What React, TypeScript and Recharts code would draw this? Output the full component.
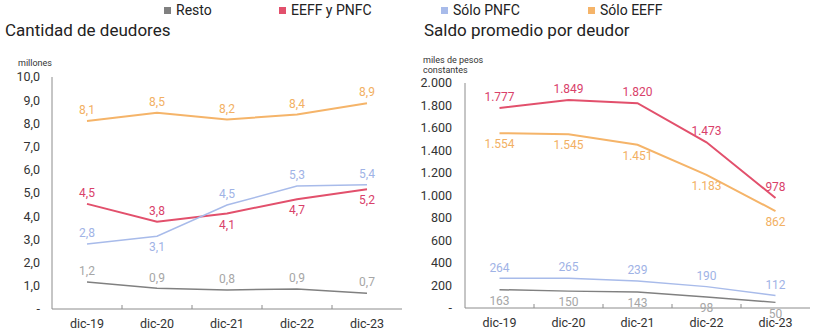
import { LineChart, Line, XAxis, YAxis, LabelList } from 'recharts';

const years = ['dic-19', 'dic-20', 'dic-21', 'dic-22', 'dic-23'];

// Cantidad de deudores (millones)
const restoCant = [1.16, 0.89, 0.82, 0.86, 0.68];
const ambosCant = [4.53, 3.76, 4.12, 4.73, 5.16];
const pnfcCant = [2.8, 3.14, 4.48, 5.3, 5.36];
const eeffCant = [8.1, 8.46, 8.17, 8.38, 8.87];

// Saldo promedio por deudor (miles de pesos constantes)
const restoSaldo = [163, 150, 143, 98, 50];
const ambosSaldo = [1777, 1849, 1820, 1473, 978];
const pnfcSaldo = [264, 265, 239, 190, 112];
const eeffSaldo = [1554, 1545, 1451, 1183, 862];

const leftTicks = [0, 1, 2, 3, 4, 5, 6, 7, 8, 9, 10];
const rightTicks = [0, 200, 400, 600, 800, 1000, 1200, 1400, 1600, 1800, 2000];

const font = 'Roboto, "Noto Sans", sans-serif';

const series = [
  { key: 'resto', name: 'Resto', stroke: '#808080', label: '#a6a6a6', width: 1.5 },
  { key: 'ambos', name: 'EEFF y PNFC', stroke: '#e2506c', label: '#d9416a', width: 2 },
  { key: 'pnfc', name: 'Sólo PNFC', stroke: '#a8bbea', label: '#9fb3e6', width: 1.5 },
  { key: 'eeff', name: 'Sólo EEFF', stroke: '#f5b469', label: '#f2b063', width: 2 },
];

// label placement per point: -1 above, 1 below
const leftPlace: Record<string, number[]> = {
  resto: [-1, -1, -1, -1, -1],
  ambos: [-1, -1, 1, 1, 1],
  pnfc: [-1, 1, -1, -1, -1],
  eeff: [-1, -1, -1, -1, -1],
};
const rightPlace: Record<string, number[]> = {
  resto: [1, 1, 1, 1, 1],
  ambos: [-1, -1, -1, -1, -1],
  pnfc: [-1, -1, -1, -1, -1],
  eeff: [1, 1, 1, 1, 1],
};

const leftData = years.map((y, i) => ({
  year: y,
  resto: restoCant[i],
  ambos: ambosCant[i],
  pnfc: pnfcCant[i],
  eeff: eeffCant[i],
}));

const rightData = years.map((y, i) => ({
  year: y,
  resto: restoSaldo[i],
  ambos: ambosSaldo[i],
  pnfc: pnfcSaldo[i],
  eeff: eeffSaldo[i],
}));

const fmtDec = (v: number) => (v === 0 ? '-' : v.toFixed(1).replace('.', ','));
const fmtMil = (v: number) =>
  v === 0 ? '-' : Math.round(v).toString().replace(/\B(?=(\d{3})+(?!\d))/g, '.');

const makeTick = (band: number) => (props: any) => {
  const { x, y, payload, index } = props;
  return (
    <g>
      <text x={x} y={y + 19} textAnchor="middle" fontSize={12.5} fill="#333" fontFamily={font}>
        {payload.value}
      </text>
      {index > 0 && (
        <line x1={x - band / 2} x2={x - band / 2} y1={y - 4} y2={y} stroke="#8c8c8c" />
      )}
    </g>
  );
};

const makeLabel = (place: number[], color: string, fmt: (v: number) => string) => (props: any) => {
  const { x, y, value, index } = props;
  const dir = place[index] ?? -1;
  return (
    <text
      x={x}
      y={y + dir * 11}
      dy="0.35em"
      textAnchor="middle"
      fontSize={12}
      fill={color}
      fontFamily={font}
    >
      {fmt(value)}
    </text>
  );
};

export default function App() {
  return (
    <div
      style={{
        position: 'absolute',
        left: 0,
        top: 0,
        width: 814,
        height: 331,
        background: '#fff',
        fontFamily: font,
        color: '#222',
      }}
    >
      {series.map((s, i) => {
        const lefts = [164, 279, 441, 588];
        return (
          <div
            key={s.key}
            style={{ position: 'absolute', left: lefts[i], top: 2, fontSize: 14, display: 'flex', alignItems: 'center', whiteSpace: 'nowrap' }}
          >
            <span style={{ display: 'inline-block', width: 7, height: 7, background: s.stroke, marginRight: 5 }} />
            <span>{s.name}</span>
          </div>
        );
      })}
      <div style={{ position: 'absolute', left: 5, top: 20, fontSize: 17 }}>Cantidad de deudores</div>
      <div style={{ position: 'absolute', left: 424, top: 20, fontSize: 17 }}>Saldo promedio por deudor</div>
      <div style={{ position: 'absolute', left: 18, top: 58, fontSize: 9, color: '#333' }}>millones</div>
      <div style={{ position: 'absolute', left: 423, top: 55, fontSize: 9, color: '#333', lineHeight: '10px' }}>
        miles de pesos
        <br />
        constantes
      </div>

      <div style={{ position: 'absolute', left: 0, top: 0 }}>
        <LineChart width={410} height={331} data={leftData} margin={{ top: 77, right: 8, left: 0, bottom: 0 }}>
          <XAxis
            dataKey="year"
            scale="band"
            height={22}
            tickSize={0}
            tickMargin={0}
            tickLine={false}
            stroke="#8c8c8c"
            tick={makeTick(70)}
          />
          <YAxis
            width={52}
            domain={[0, 10]}
            ticks={leftTicks}
            tickFormatter={fmtDec}
            tickSize={0}
            tickMargin={12}
            tickLine={false}
            stroke="#8c8c8c"
            tick={{ fontSize: 12.5, fill: '#333', fontFamily: font }}
          />
          {series.map((s) => (
            <Line
              key={s.key}
              dataKey={s.key}
              stroke={s.stroke}
              strokeWidth={s.width}
              dot={false}
              isAnimationActive={false}
            >
              <LabelList dataKey={s.key} content={makeLabel(leftPlace[s.key], s.label, fmtDec)} />
            </Line>
          ))}
        </LineChart>
      </div>

      <div style={{ position: 'absolute', left: 410, top: 0 }}>
        <LineChart width={404} height={331} data={rightData} margin={{ top: 83, right: 4, left: 0, bottom: 0 }}>
          <XAxis
            dataKey="year"
            scale="band"
            height={23}
            tickSize={0}
            tickMargin={0}
            tickLine={false}
            stroke="#8c8c8c"
            tick={makeTick(69)}
          />
          <YAxis
            width={55}
            domain={[0, 2000]}
            ticks={rightTicks}
            tickFormatter={fmtMil}
            tickSize={0}
            tickMargin={13}
            tickLine={false}
            stroke="#8c8c8c"
            tick={{ fontSize: 12.5, fill: '#333', fontFamily: font }}
          />
          {series.map((s) => (
            <Line
              key={s.key}
              dataKey={s.key}
              stroke={s.stroke}
              strokeWidth={s.width}
              dot={false}
              isAnimationActive={false}
            >
              <LabelList dataKey={s.key} content={makeLabel(rightPlace[s.key], s.label, fmtMil)} />
            </Line>
          ))}
        </LineChart>
      </div>
    </div>
  );
}
